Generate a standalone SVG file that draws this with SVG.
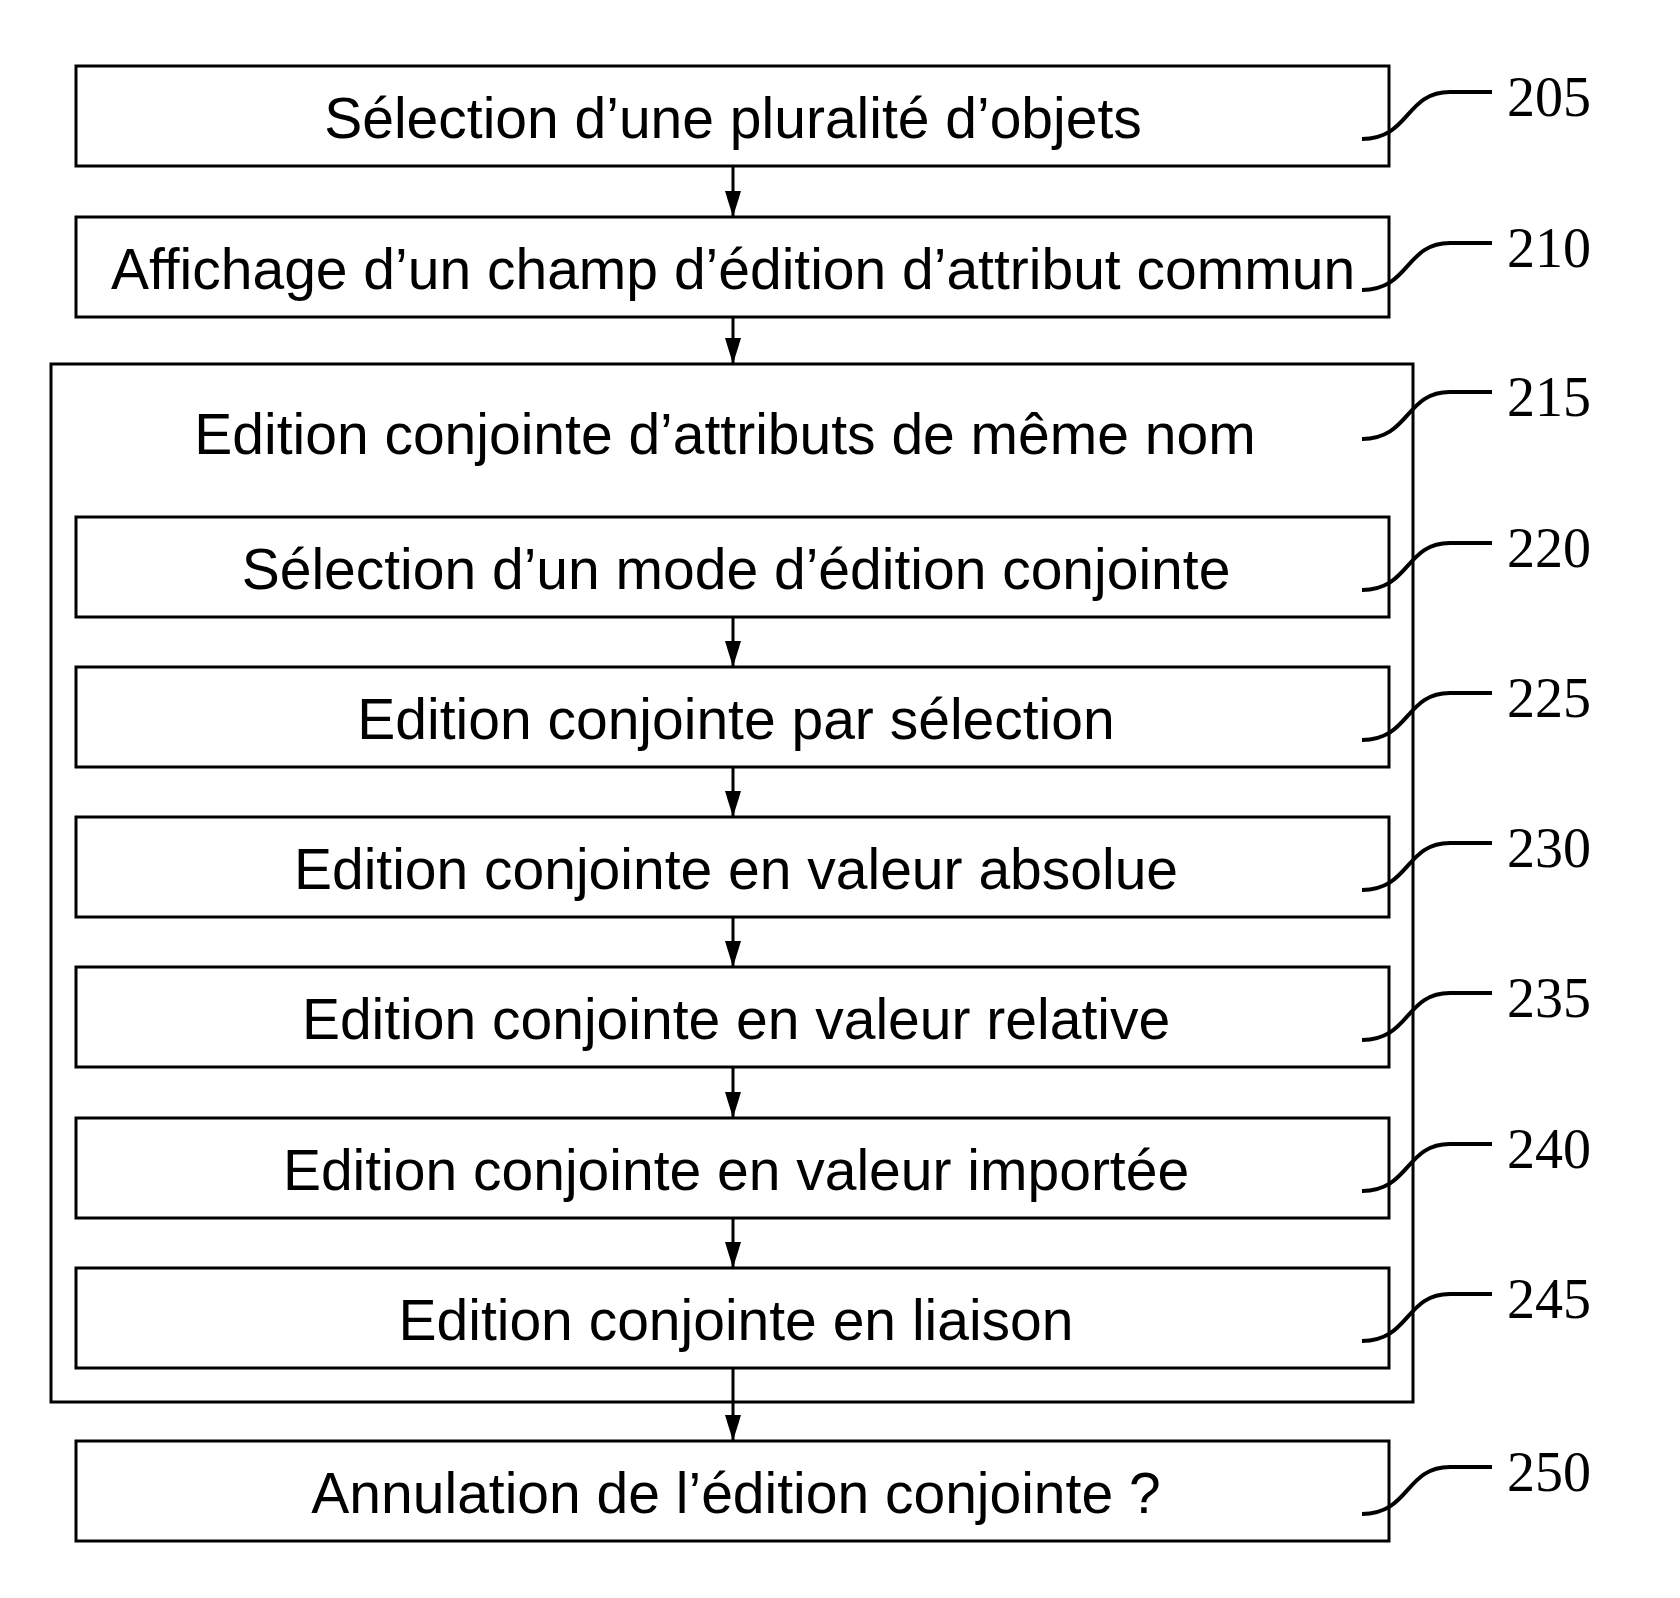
<svg xmlns="http://www.w3.org/2000/svg" width="1680" height="1598" viewBox="0 0 1680 1598">
<style>
.b{fill:#fff;stroke:#000;stroke-width:3}
.t{font-family:"Liberation Sans",Arial,sans-serif;font-size:57px;text-anchor:middle;fill:#000}
.n{font-family:"Liberation Serif","Times New Roman",serif;font-size:56px;fill:#000}
.l{fill:none;stroke:#000;stroke-width:4}
.c{stroke:#000;stroke-width:3;marker-end:url(#a)}
</style>
<defs><marker id="a" markerWidth="26" markerHeight="16" refX="26" refY="8" orient="auto" markerUnits="userSpaceOnUse" viewBox="0 0 26 16"><path d="M0,0 L26,8 L0,16 Z" fill="#000"/></marker></defs>
<g id="n215"><rect class="b" x="51" y="364" width="1362" height="1038"/><text class="t" x="725" y="454">Edition conjointe d’attributs de même nom</text><path class="l" d="M1362 439 C1410 439 1405 392 1450 392 L1492 392"/><text class="n" x="1507" y="416">215</text></g>
<g id="n205"><rect class="b" x="76" y="66" width="1313" height="100"/><text class="t" x="733" y="138">Sélection d’une pluralité d’objets</text><path class="l" d="M1362 139 C1410 139 1405 92 1450 92 L1492 92"/><text class="n" x="1507" y="116">205</text></g>
<g id="n210"><rect class="b" x="76" y="217" width="1313" height="100"/><text class="t" x="733" y="289">Affichage d’un champ d’édition d’attribut commun</text><path class="l" d="M1362 290 C1410 290 1405 243 1450 243 L1492 243"/><text class="n" x="1507" y="267">210</text></g>
<g id="n220"><rect class="b" x="76" y="517" width="1313" height="100"/><text class="t" x="736" y="589">Sélection d’un mode d’édition conjointe</text><path class="l" d="M1362 590 C1410 590 1405 543 1450 543 L1492 543"/><text class="n" x="1507" y="567">220</text></g>
<g id="n225"><rect class="b" x="76" y="667" width="1313" height="100"/><text class="t" x="736" y="739">Edition conjointe par sélection</text><path class="l" d="M1362 740 C1410 740 1405 693 1450 693 L1492 693"/><text class="n" x="1507" y="717">225</text></g>
<g id="n230"><rect class="b" x="76" y="817" width="1313" height="100"/><text class="t" x="736" y="889">Edition conjointe en valeur absolue</text><path class="l" d="M1362 890 C1410 890 1405 843 1450 843 L1492 843"/><text class="n" x="1507" y="867">230</text></g>
<g id="n235"><rect class="b" x="76" y="967" width="1313" height="100"/><text class="t" x="736" y="1039">Edition conjointe en valeur relative</text><path class="l" d="M1362 1040 C1410 1040 1405 993 1450 993 L1492 993"/><text class="n" x="1507" y="1017">235</text></g>
<g id="n240"><rect class="b" x="76" y="1118" width="1313" height="100"/><text class="t" x="736" y="1190">Edition conjointe en valeur importée</text><path class="l" d="M1362 1191 C1410 1191 1405 1144 1450 1144 L1492 1144"/><text class="n" x="1507" y="1168">240</text></g>
<g id="n245"><rect class="b" x="76" y="1268" width="1313" height="100"/><text class="t" x="736" y="1340">Edition conjointe en liaison</text><path class="l" d="M1362 1341 C1410 1341 1405 1294 1450 1294 L1492 1294"/><text class="n" x="1507" y="1318">245</text></g>
<g id="n250"><rect class="b" x="76" y="1441" width="1313" height="100"/><text class="t" x="736" y="1513">Annulation de l’édition conjointe ?</text><path class="l" d="M1362 1514 C1410 1514 1405 1467 1450 1467 L1492 1467"/><text class="n" x="1507" y="1491">250</text></g>
<g id="connectors">
<line class="c" x1="733" y1="166" x2="733" y2="217"/>
<line class="c" x1="733" y1="317" x2="733" y2="364"/>
<line class="c" x1="733" y1="617" x2="733" y2="667"/>
<line class="c" x1="733" y1="767" x2="733" y2="817"/>
<line class="c" x1="733" y1="917" x2="733" y2="967"/>
<line class="c" x1="733" y1="1067" x2="733" y2="1118"/>
<line class="c" x1="733" y1="1218" x2="733" y2="1268"/>
<line class="c" x1="733" y1="1368" x2="733" y2="1441"/>
</g>
</svg>
